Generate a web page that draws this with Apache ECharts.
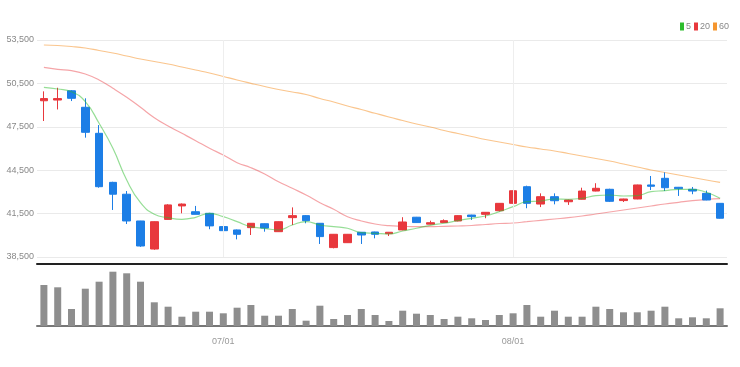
<!DOCTYPE html>
<html>
<head>
<meta charset="utf-8">
<script src="https://cdn.jsdelivr.net/npm/echarts@6/dist/echarts.min.js"></script>
<style>
  html, body { margin: 0; padding: 0; background: #fff; }
  #main { width: 740px; height: 367px; }
</style>
</head>
<body>
<div id="main"></div>
<script>
// 일자 (2022.06.14 ~ 2022.08.23)
var dates = ['06/14','06/15','06/16','06/17','06/20','06/21','06/22','06/23','06/24','06/27',
             '06/28','06/29','06/30','07/01','07/04','07/05','07/06','07/07','07/08','07/11',
             '07/12','07/13','07/14','07/15','07/18','07/19','07/20','07/21','07/22','07/25',
             '07/26','07/27','07/28','07/29','08/01','08/02','08/03','08/04','08/05','08/08',
             '08/09','08/10','08/11','08/12','08/16','08/17','08/18','08/19','08/22','08/23'];

var opens  = [49300,49350,49990,48850,47050,43660,42840,40990,39050,41100,
              42030,41630,41520,40600,40370,40530,40800,40250,41220,41360,
              40830,39150,39490,40210,40230,40110,40370,41250,40770,40880,
              40990,41400,41450,41700,42210,43360,42160,42670,42320,42490,
              43060,43180,42400,42510,43480,43940,43320,43180,42900,42210];
var closes = [49450,49450,49470,47120,43360,42840,40990,39260,40940,42100,
              42160,41450,40650,40320,40070,40830,40500,40940,41360,41010,
              39910,40070,40070,40020,40070,40210,40920,40880,40870,41010,
              41360,41290,41590,42210,43080,42210,42670,42390,42440,43060,
              43250,42350,42510,43480,43390,43290,43220,43060,42440,41180];
var lows   = [47900,48700,49280,46750,43290,41750,40780,39200,39000,41080,
              41520,41450,40420,39720,39720,40020,40250,40230,40710,40830,
              39400,39100,39470,39400,39790,39950,40350,40860,40750,40860,
              40970,41060,41180,41650,42190,41870,41950,42140,42100,42470,
              43040,42300,42300,42490,43130,43060,42720,42840,42420,41160];
var highs  = [49950,50200,50040,49470,47620,43700,43060,41000,40960,42150,
              42200,42030,41550,40880,40400,40850,40820,40960,41930,41400,
              40850,40090,40090,40230,40250,40230,41250,41270,41010,41100,
              41380,41420,41610,42230,43100,43430,42900,42900,42460,43290,
              43600,43220,42530,43500,44100,44350,43340,43340,43090,42230];

var volumes = [410000,387000,170000,373000,443000,543000,527000,443000,237000,193000,
               93000,143000,143000,127000,183000,210000,103000,103000,170000,53000,
               203000,70000,110000,170000,110000,50000,153000,123000,110000,70000,
               93000,77000,60000,110000,127000,210000,93000,153000,93000,93000,
               193000,170000,137000,137000,153000,193000,77000,87000,77000,177000];

// 이동평균선
var ma5  = [50231,50113,49927,49235,47742,46014,43823,42254,41452,41217,
            41107,41245,41522,41286,40941,40595,40485,40367,40713,40941,
            40713,40595,40485,40181,40139,40091,40298,40485,40692,40831,
            41010,41176,41335,41632,41978,42323,42372,42510,42489,42558,
            42740,42786,42717,42740,43015,43084,43180,43180,42973,42558];
var ma20 = [51613,51475,51378,51150,50735,50162,49539,48848,48129,47556,
            47051,46540,46014,45551,45019,44673,44238,43706,43249,42786,
            42254,41798,41286,40989,40782,40665,40623,40595,40595,40623,
            40644,40679,40748,40816,40851,40941,41038,41128,41218,41335,
            41473,41611,41750,41888,42027,42165,42282,42392,42474,42531];
var ma60 = [53154,53120,53051,52947,52774,52601,52394,52187,52014,51841,
            51634,51426,51219,50977,50735,50507,50286,50079,49906,49733,
            49456,49215,48938,48696,48434,48178,47936,47694,47487,47245,
            47037,46830,46623,46450,46277,46104,45966,45828,45655,45482,
            45309,45136,44929,44722,44514,44342,44169,43996,43823,43664];

var priceTicks = { min: 38500, max: 53500, step: 3000 };

var candles = [];
for (var i = 0; i < dates.length; i++) {
    candles.push([opens[i], closes[i], lows[i], highs[i]]);
}

function isMonthStart(idx, val) {
    return val === '07/01' || val === '08/01';
}

var FONT = "'Liberation Sans', sans-serif";

var myChart = echarts.init(document.getElementById('main'));
var option = {
    animation: false,
    textStyle: { fontFamily: FONT },
    legend: {
        right: 6,
        top: 17,
        icon: 'rect',
        itemWidth: 4,
        itemHeight: 8,
        itemGap: 3,
        textStyle: { fontSize: 9, color: '#888', fontFamily: FONT, padding: [0, 0, 0, -3] },
        data: ['5', '20', '60']
    },
    grid: [
        { left: 37, right: 13, top: 40, height: 217 },
        { left: 37, right: 13, top: 268, height: 58 }
    ],
    xAxis: [
        {
            type: 'category',
            gridIndex: 0,
            data: dates,
            boundaryGap: true,
            offset: 7,
            axisLine: { lineStyle: { color: '#222', width: 2 } },
            axisTick: { show: false },
            axisLabel: { show: false },
            splitLine: { show: false }
        },
        {
            type: 'category',
            gridIndex: 1,
            data: dates,
            boundaryGap: true,
            axisLine: { lineStyle: { color: '#777', width: 2 } },
            axisTick: { alignWithLabel: true, interval: isMonthStart, length: 4, lineStyle: { color: '#777' } },
            axisLabel: { interval: isMonthStart, fontSize: 9, color: '#999', margin: 11 },
            splitLine: { show: false }
        }
    ],
    yAxis: [
        {
            type: 'value',
            gridIndex: 0,
            min: priceTicks.min,
            max: priceTicks.max,
            interval: priceTicks.step,
            axisLine: { show: false },
            axisTick: { show: false },
            axisLabel: {
                fontSize: 9,
                color: '#888',
                margin: 3,
                formatter: function (v) { return String(v).replace(/\B(?=(\d{3})+(?!\d))/g, ','); }
            },
            splitLine: { lineStyle: { color: '#eaeaea', width: 1 } }
        },
        {
            type: 'value',
            gridIndex: 1,
            min: 0,
            max: 580000,
            show: false
        }
    ],
    series: [
        {
            name: 'price',
            type: 'candlestick',
            xAxisIndex: 0,
            yAxisIndex: 0,
            data: candles,
            barWidth: 8,
            itemStyle: {
                color: '#e8383d',
                color0: '#1c7ee6',
                borderColor: '#e8383d',
                borderColor0: '#1c7ee6',
                borderWidth: 1
            },
            markLine: {
                silent: true,
                symbol: ['none', 'none'],
                label: { show: false },
                lineStyle: { color: '#eeeeee', type: 'solid', width: 1 },
                data: [{ xAxis: '07/01' }, { xAxis: '08/01' }]
            },
            z: 3
        },
        {
            name: '5',
            type: 'line',
            data: ma5,
            smooth: true,
            symbol: 'none',
            color: '#2dbd2d',
            lineStyle: { width: 1.2, color: 'rgba(45,189,45,0.5)' },
            z: 4
        },
        {
            name: '20',
            type: 'line',
            data: ma20,
            smooth: true,
            symbol: 'none',
            color: '#e8383d',
            lineStyle: { width: 1.2, color: 'rgba(232,56,61,0.45)' },
            z: 2
        },
        {
            name: '60',
            type: 'line',
            data: ma60,
            smooth: true,
            symbol: 'none',
            color: '#f5962f',
            lineStyle: { width: 1.2, color: 'rgba(245,150,47,0.55)' },
            z: 2
        },
        {
            name: 'volume',
            type: 'bar',
            xAxisIndex: 1,
            yAxisIndex: 1,
            data: volumes,
            barWidth: 7,
            itemStyle: { color: '#8e8e8e' }
        }
    ]
};

myChart.setOption(option);
</script>
</body>
</html>
